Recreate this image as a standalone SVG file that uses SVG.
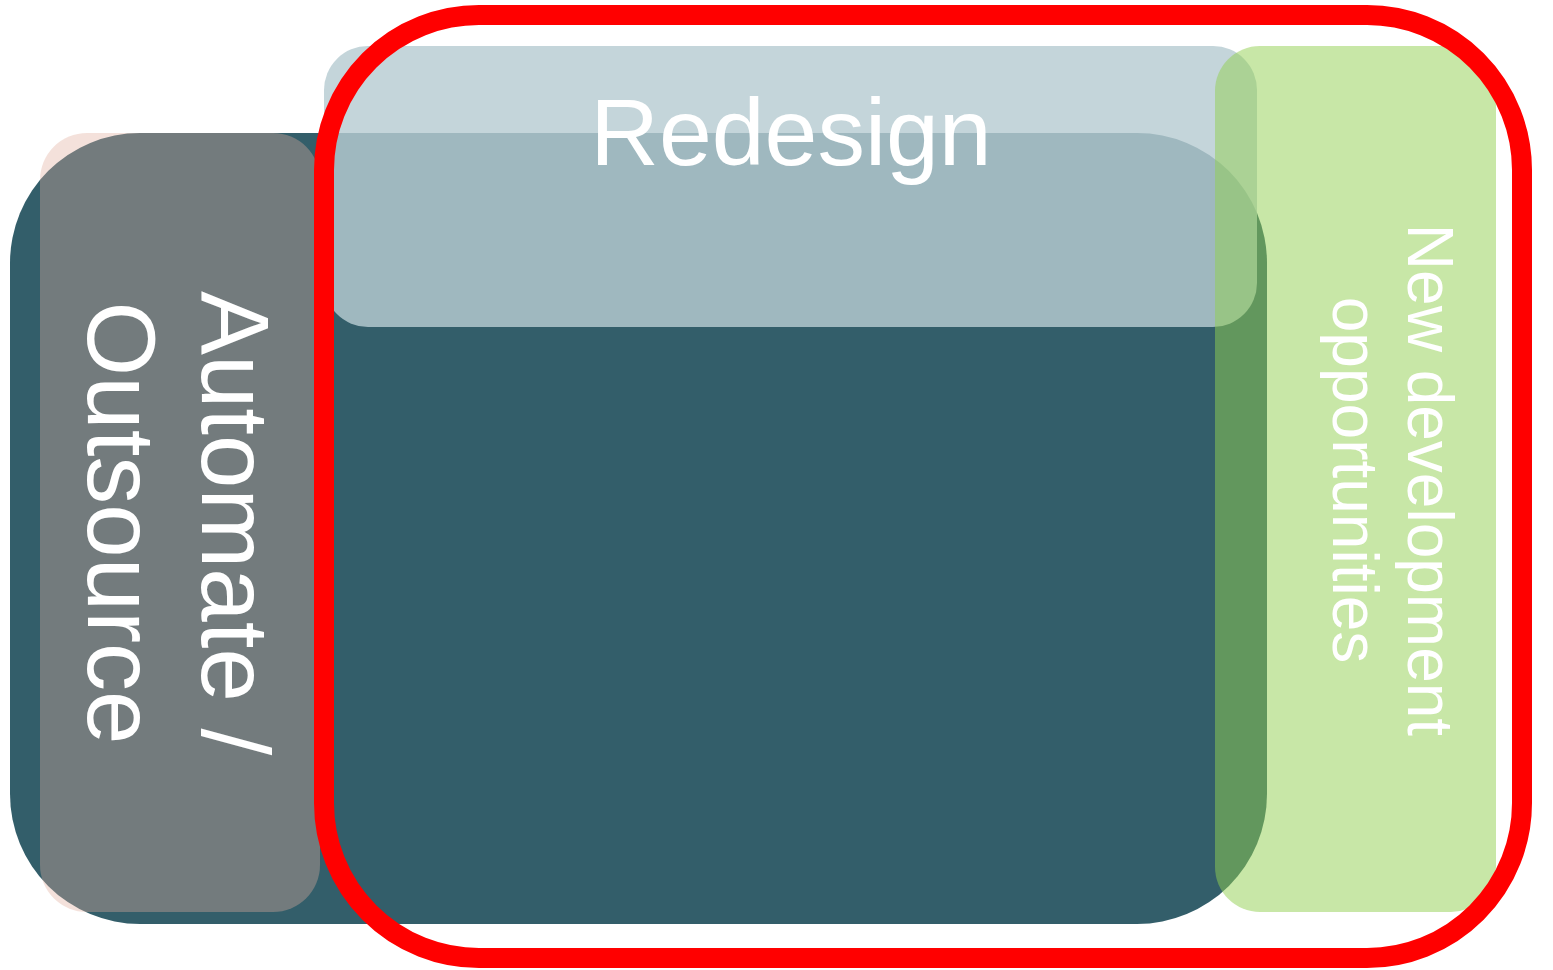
<svg xmlns="http://www.w3.org/2000/svg" width="1553" height="970" viewBox="0 0 1553 970">
  <style>
    .lbl { font-family: "Liberation Sans", Arial, sans-serif; fill: #ffffff; }
  </style>
  <rect x="0" y="0" width="1553" height="970" fill="#ffffff"/>
  <g id="core">
    <rect x="10" y="133" width="1257" height="791" rx="130" ry="130" fill="#335e6a"/>
  </g>
  <g id="automate-outsource">
    <rect x="40" y="133" width="280" height="779" rx="47" ry="47" fill="rgb(226,174,156)" fill-opacity="0.37"/>
    <g transform="translate(202,523) rotate(90)">
      <text class="lbl" x="0" y="0" font-size="96" text-anchor="middle">Automate /</text>
      <text class="lbl" x="0" y="114" font-size="96" text-anchor="middle">Outsource</text>
    </g>
  </g>
  <g id="redesign">
    <rect x="324" y="46" width="933" height="281" rx="44" ry="44" fill="rgb(183,204,210)" fill-opacity="0.82"/>
    <text class="lbl" x="791" y="165" font-size="95" text-anchor="middle">Redesign</text>
  </g>
  <g id="new-development">
    <rect x="1215" y="46" width="281" height="866" rx="45" ry="45" fill="#92d050" fill-opacity="0.5"/>
    <g transform="translate(1408,480) rotate(90)">
      <text class="lbl" x="0" y="0" font-size="64" text-anchor="middle">New development</text>
      <text class="lbl" x="0" y="75" font-size="64" text-anchor="middle">opportunities</text>
    </g>
  </g>
  <g id="scope-outline">
    <rect x="324" y="15" width="1198" height="943" rx="155" ry="155" fill="none" stroke="#ff0000" stroke-width="20"/>
  </g>
  <g id="connectors"></g>
</svg>
